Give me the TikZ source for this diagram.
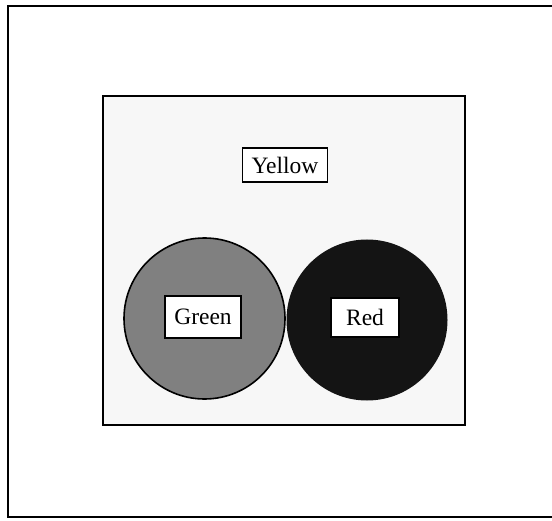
\documentclass[tikz,border=0pt]{standalone}
\usepackage{fontspec}
\setmainfont{Liberation Serif}
\usetikzlibrary{positioning}
\tikzset{
  frame/.style={draw, line width=1.8bp},
  panel/.style={draw, line width=2bp, fill=black!3},
  greendisc/.style={draw, circle, line width=1.6bp, fill=black!50, minimum size=161bp, inner sep=0pt},
  reddisc/.style={circle, fill=black!92, minimum size=161bp, inner sep=0pt},
  labelbox/.style={draw, line width=1.8bp, fill=white, inner sep=0pt, font=\fontsize{23.5bp}{26bp}\selectfont}
}
\begin{document}
\begin{tikzpicture}[x=1bp, y=-1bp]
  \useasboundingbox (0,0) rectangle (552,521);
  % outer frame, open at the right
  \draw[frame] (560,6) -- (8,6) -- (8,517) -- (560,517);
  % inner yellow panel
  \draw[panel] (103,96) rectangle (465,425);
  \node[labelbox, minimum width=85bp, minimum height=34bp] (yellow) at (285,165) {Yellow};
  % the two discs
  \node[greendisc] (greenc) at (204.5,318.5) {};
  \node[reddisc] (redc) at (367,320) {};
  \node[labelbox, minimum width=76bp, minimum height=42bp] (green) at (203,317) {Green};
  \node[labelbox, minimum width=68bp, minimum height=39bp] (red) at (365,317.5) {Red};
\end{tikzpicture}
\end{document}
